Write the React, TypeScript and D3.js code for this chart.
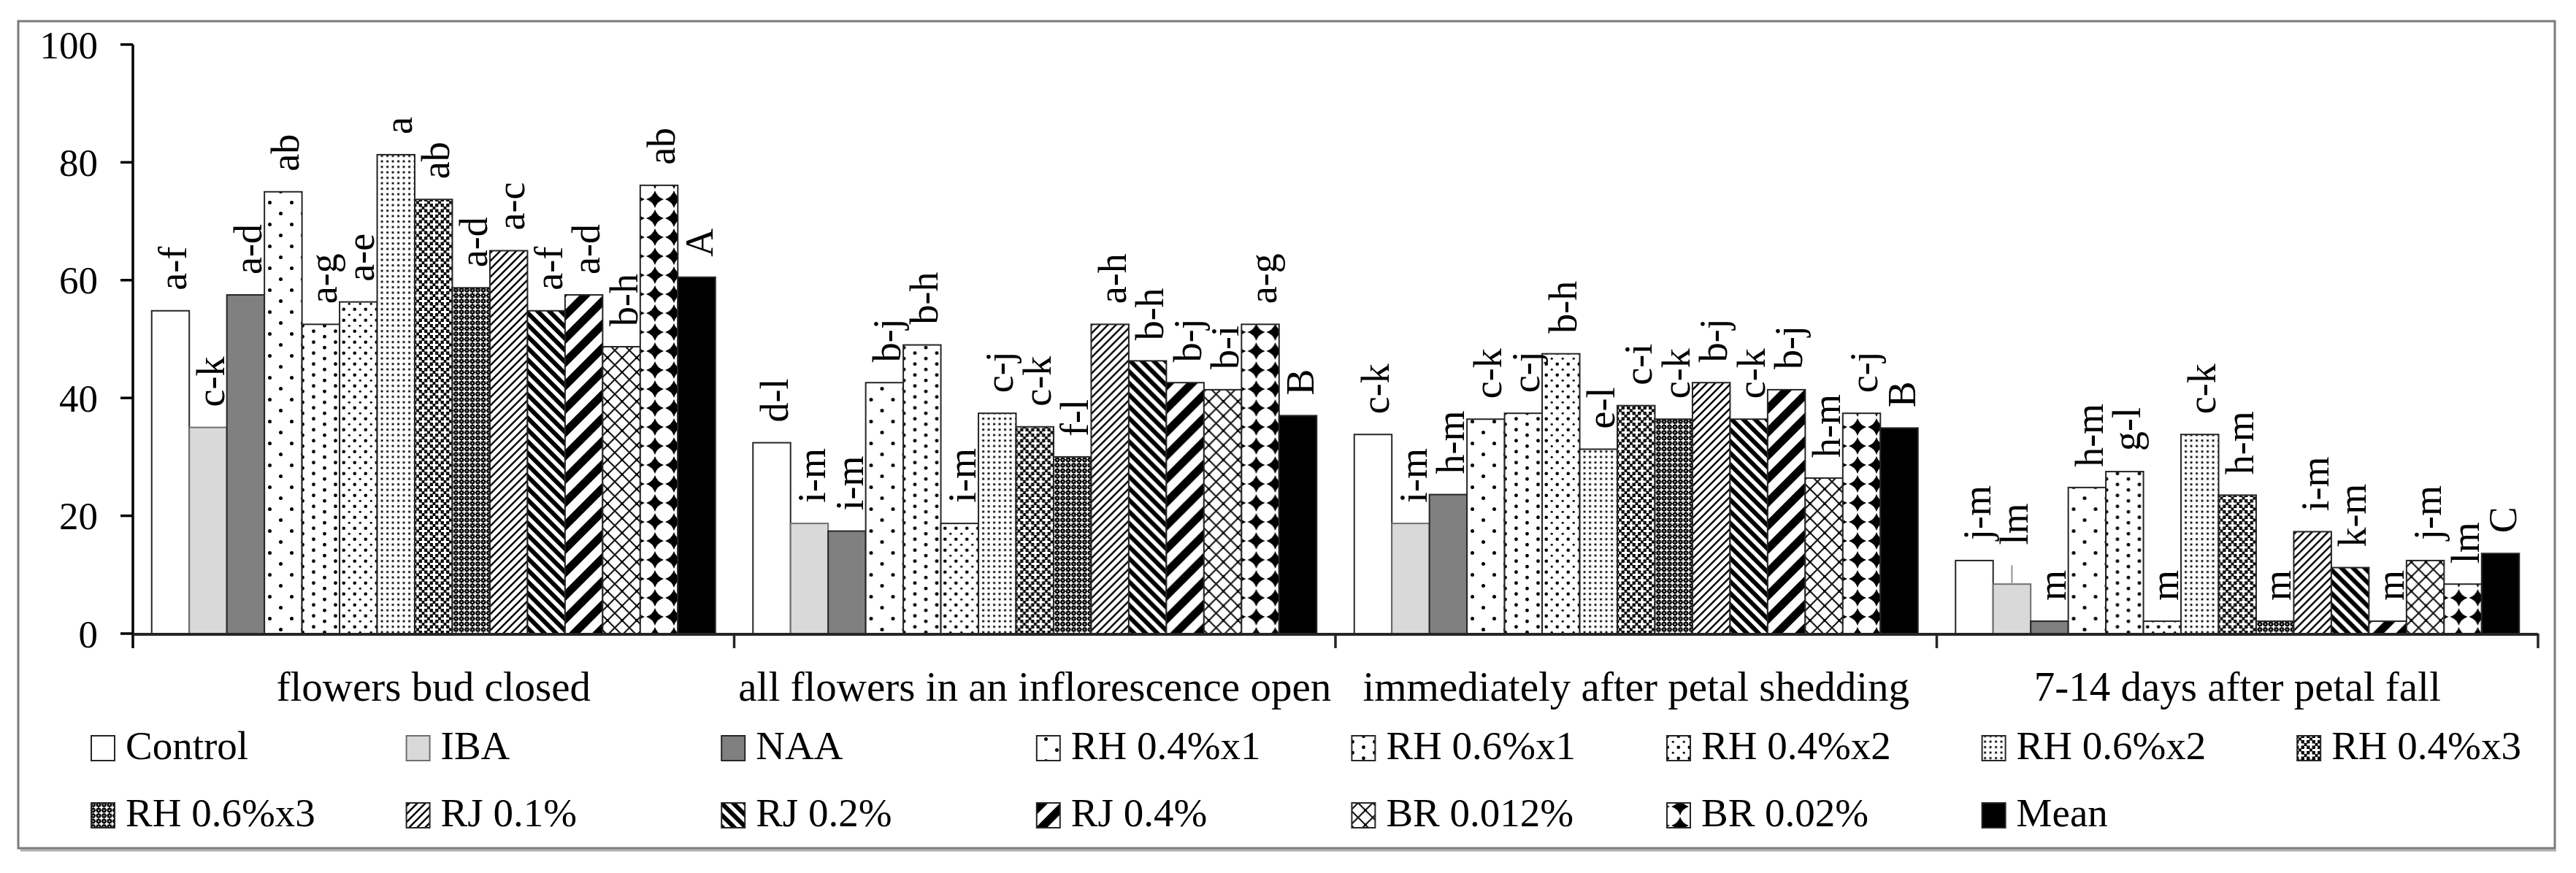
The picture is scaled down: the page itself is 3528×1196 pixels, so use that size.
import React from 'react';
import * as d3 from 'd3';

// stages on the x axis
const stages = [
  'flowers bud closed',
  'all flowers in an inflorescence open',
  'immediately after petal shedding',
  '7-14 days after petal fall',
];

// treatments (series)
const treatments = [
  'Control', 'IBA', 'NAA', 'RH 0.4%x1', 'RH 0.6%x1', 'RH 0.4%x2', 'RH 0.6%x2', 'RH 0.4%x3',
  'RH 0.6%x3', 'RJ 0.1%', 'RJ 0.2%', 'RJ 0.4%', 'BR 0.012%', 'BR 0.02%', 'Mean',
];

// values per stage, in treatment order
const budClosed = [54.8, 35.0, 57.5, 75.0, 52.5, 56.3, 81.3, 73.7, 58.7, 65.0, 54.8, 57.5, 48.7, 76.1, 60.5];
const allOpen = [32.4, 18.7, 17.4, 42.6, 49.0, 18.7, 37.4, 35.1, 30.0, 52.5, 46.3, 42.6, 41.4, 52.5, 37.0];
const afterShedding = [33.8, 18.7, 23.6, 36.4, 37.4, 47.5, 31.3, 38.7, 36.4, 42.6, 36.4, 41.4, 26.4, 37.4, 34.9];
const afterFall = [12.4, 8.4, 2.1, 24.8, 27.5, 2.1, 33.8, 23.5, 2.1, 17.3, 11.2, 2.1, 12.4, 8.4, 13.6];

// significance letters
const budClosedLetters = ['a-f', 'c-k', 'a-d', 'ab', 'a-g', 'a-e', 'a', 'ab', 'a-d', 'a-c', 'a-f', 'a-d', 'b-h', 'ab', 'A'];
const allOpenLetters = ['d-l', 'i-m', 'i-m', 'b-j', 'b-h', 'i-m', 'c-j', 'c-k', 'f-l', 'a-h', 'b-h', 'b-j', 'b-i', 'a-g', 'B'];
const afterSheddingLetters = ['c-k', 'i-m', 'h-m', 'c-k', 'c-j', 'b-h', 'e-l', 'c-i', 'c-k', 'b-j', 'c-k', 'b-j', 'h-m', 'c-j', 'B'];
const afterFallLetters = ['j-m', 'lm', 'm', 'h-m', 'g-l', 'm', 'c-k', 'h-m', 'm', 'i-m', 'k-m', 'm', 'j-m', 'lm', 'C'];

// the only error whisker that shows (IBA, 7-14 days)
const visibleWhisker = { stage: 3, treatment: 1, top: 11.6 };

const yTicks = [0, 20, 40, 60, 80, 100];

const values = [budClosed, allOpen, afterShedding, afterFall];
const letters = [budClosedLetters, allOpenLetters, afterSheddingLetters, afterFallLetters];

const FONT = '"Liberation Serif", "Times New Roman", serif';
const W = 3528;
const H = 1196;

// plot area
const left = 182;
const right = 3476;
const top = 61;
const bottom = 868;

const fills = [
  '#ffffff', '#d9d9d9', '#808080', 'url(#p3)', 'url(#p4)', 'url(#p5)', 'url(#p6)', 'url(#p7)',
  'url(#p8)', 'url(#p9)', 'url(#p10)', 'url(#p11)', 'url(#p12)', 'url(#p13)', '#000000',
];

const plus = (cx: number, cy: number, arm: number, w: number) =>
  `M${cx - w / 2},${cy - arm}h${w}v${arm - w / 2}h${arm - w / 2}v${w}h${-(arm - w / 2)}v${arm - w / 2}h${-w}v${-(arm - w / 2)}h${-(arm - w / 2)}v${-w}h${arm - w / 2}z`;

const Patterns: React.FC = () => (
  <defs>
    {/* RH 0.4%x1 sparse dots */}
    <pattern id="p3" patternUnits="userSpaceOnUse" width={30} height={30}>
      <rect width={30} height={30} fill="#fff" />
      <circle cx={7.5} cy={7.5} r={2.5} fill="#000" />
      <circle cx={22.5} cy={22.5} r={2.5} fill="#000" />
    </pattern>
    {/* RH 0.6%x1 */}
    <pattern id="p4" patternUnits="userSpaceOnUse" width={30} height={15}>
      <rect width={30} height={15} fill="#fff" />
      <circle cx={7.5} cy={3.75} r={2.4} fill="#000" />
      <circle cx={22.5} cy={11.25} r={2.4} fill="#000" />
    </pattern>
    {/* RH 0.4%x2 */}
    <pattern id="p5" patternUnits="userSpaceOnUse" width={15} height={15}>
      <rect width={15} height={15} fill="#fff" />
      <circle cx={3.75} cy={3.75} r={2.3} fill="#000" />
      <circle cx={11.25} cy={11.25} r={1.6} fill="#000" />
    </pattern>
    {/* RH 0.6%x2 */}
    <pattern id="p6" patternUnits="userSpaceOnUse" width={7.5} height={7.5}>
      <rect width={7.5} height={7.5} fill="#fff" />
      <rect x={2.2} y={2.2} width={2.8} height={2.8} fill="#000" />
    </pattern>
    {/* RH 0.4%x3 black lattice with white crosses */}
    <pattern id="p7" patternUnits="userSpaceOnUse" width={15} height={15}>
      <rect width={15} height={15} fill="#000" />
      <path d={plus(7.5, 7.5, 5.6, 3.2)} fill="#fff" />
      <path d={plus(0, 0, 5.6, 3.2)} fill="#fff" />
      <path d={plus(15, 0, 5.6, 3.2)} fill="#fff" />
      <path d={plus(0, 15, 5.6, 3.2)} fill="#fff" />
      <path d={plus(15, 15, 5.6, 3.2)} fill="#fff" />
    </pattern>
    {/* RH 0.6%x3 finer, darker */}
    <pattern id="p8" patternUnits="userSpaceOnUse" width={7.5} height={7.5}>
      <rect width={7.5} height={7.5} fill="#000" />
      <path d={plus(3.75, 3.75, 3, 1.8)} fill="#fff" />
      <rect x={-0.8} y={-0.8} width={1.6} height={1.6} fill="#fff" />
      <rect x={6.7} y={-0.8} width={1.6} height={1.6} fill="#fff" />
      <rect x={-0.8} y={6.7} width={1.6} height={1.6} fill="#fff" />
      <rect x={6.7} y={6.7} width={1.6} height={1.6} fill="#fff" />
    </pattern>
    {/* RJ 0.1% light upward diagonal */}
    <pattern id="p9" patternUnits="userSpaceOnUse" width={11} height={11}>
      <rect width={11} height={11} fill="#fff" />
      <path d="M-2,13 L13,-2 M-2,2 L2,-2 M9,13 L13,9" stroke="#000" strokeWidth={2.4} />
    </pattern>
    {/* RJ 0.2% wide downward diagonal */}
    <pattern id="p10" patternUnits="userSpaceOnUse" width={16} height={16}>
      <rect width={16} height={16} fill="#fff" />
      <path d="M-4,-4 L20,20 M-4,12 L4,20 M12,-4 L20,4" stroke="#000" strokeWidth={6} />
    </pattern>
    {/* RJ 0.4% wide upward diagonal */}
    <pattern id="p11" patternUnits="userSpaceOnUse" width={32} height={32}>
      <rect width={32} height={32} fill="#fff" />
      <path d="M-4,36 L36,-4 M-8,8 L8,-8 M24,40 L40,24" stroke="#000" strokeWidth={11} />
    </pattern>
    {/* BR 0.012% diamond lattice */}
    <pattern id="p12" patternUnits="userSpaceOnUse" width={20} height={20}>
      <rect width={20} height={20} fill="#fff" />
      <path d="M0,0 L20,20 M20,0 L0,20" stroke="#1a1a1a" strokeWidth={2.2} />
      <circle cx={10} cy={10} r={2} fill="#000" />
    </pattern>
    {/* BR 0.02% four-point stars */}
    <pattern id="p13" patternUnits="userSpaceOnUse" width={26} height={26}>
      <rect width={26} height={26} fill="#fff" />
      <path d="M13,1 Q16,10 25,13 Q16,16 13,25 Q10,16 1,13 Q10,10 13,1Z" fill="#000" />
    </pattern>
  </defs>
);

const App: React.FC = () => {
  const x0 = d3.scaleBand<string>().domain(stages).range([left, right]).padding(0);
  const x1 = d3.scaleBand<string>().domain(treatments).range([0, x0.bandwidth()]).paddingInner(0).paddingOuter(0.5);
  const y = d3.scaleLinear().domain([0, 100]).range([bottom, top]);

  const legendCol = (i: number) => 125 + i * 431.6;
  const legendRows = [treatments.slice(0, 8), treatments.slice(8)];

  return (
    <svg width={W} height={H} style={{ position: 'absolute', left: 0, top: 0, background: '#fff' }}
      fontFamily={FONT}>
      <Patterns />
      <rect x={0} y={0} width={W} height={H} fill="#fff" />
      {/* outer frame */}
      <line x1={28} y1={1165} x2={3501} y2={1165} stroke="#b0b0b0" strokeWidth={3} />
      <rect x={25} y={29} width={3474} height={1133} fill="none" stroke="#7a7a7a" strokeWidth={3} />

      {/* bars */}
      {stages.map((s, gi) => (
        <g key={s} transform={`translate(${x0(s)},0)`}>
          {treatments.map((t, ti) => {
            const v = values[gi][ti];
            const bx = x1(t) as number;
            return (
              <rect key={t} x={bx} y={y(v)} width={x1.bandwidth()} height={bottom - y(v)}
                fill={fills[ti]} stroke={ti === 1 ? '#6f6f6f' : '#262626'} strokeWidth={2} />
            );
          })}
        </g>
      ))}

      {/* error whisker that is visible */}
      {(() => {
        const s = stages[visibleWhisker.stage];
        const t = treatments[visibleWhisker.treatment];
        const cx = (x0(s) as number) + (x1(t) as number) + x1.bandwidth() / 2;
        return (
          <line x1={cx} x2={cx} y1={y(values[visibleWhisker.stage][visibleWhisker.treatment])}
            y2={y(visibleWhisker.top)} stroke="#a6a6a6" strokeWidth={2.5} />
        );
      })()}

      {/* letters */}
      {stages.map((s, gi) => (
        <g key={`l-${s}`}>
          {treatments.map((t, ti) => {
            const cx = (x0(s) as number) + (x1(t) as number) + x1.bandwidth() / 2;
            let v = values[gi][ti];
            if (gi === visibleWhisker.stage && ti === visibleWhisker.treatment) v = visibleWhisker.top;
            return (
              <text key={t} transform={`translate(${cx},${y(v) - 28}) rotate(-90)`} dy="0.4em"
                fontSize={54} textAnchor="start" fill="#000">
                {letters[gi][ti]}
              </text>
            );
          })}
        </g>
      ))}

      {/* y axis */}
      <line x1={left} x2={left} y1={top} y2={bottom + 20} stroke="#000" strokeWidth={3.5} />
      {yTicks.map(v => (
        <g key={v}>
          <line x1={left - 17} x2={left} y1={y(v)} y2={y(v)} stroke="#000" strokeWidth={3.5} />
          <text x={134} y={y(v)} dy="0.35em" textAnchor="end" fontSize={53} fill="#000">{v}</text>
        </g>
      ))}

      {/* x axis */}
      <line x1={left} x2={right} y1={bottom + 1} y2={bottom + 1} stroke="#262626" strokeWidth={4} />
      {stages.map(s => (
        <line key={`t-${s}`} x1={(x0(s) as number) + x0.bandwidth()} x2={(x0(s) as number) + x0.bandwidth()}
          y1={bottom} y2={bottom + 20} stroke="#262626" strokeWidth={3.5} />
      ))}
      {stages.map(s => (
        <text key={`c-${s}`} x={(x0(s) as number) + x0.bandwidth() / 2} y={960} textAnchor="middle"
          fontSize={57} fill="#000">{s}</text>
      ))}

      {/* legend */}
      {legendRows.map((row, ri) => (
        <g key={`row-${ri}`}>
          {row.map((t, ci) => {
            const ti = treatments.indexOf(t);
            const lx = legendCol(ci);
            const ly = ri === 0 ? 1008 : 1100;
            return (
              <g key={t}>
                <rect x={lx} y={ly} width={32} height={34} fill={fills[ti]}
                  stroke={ti === 1 ? '#6f6f6f' : '#262626'} strokeWidth={2} />
                <text x={lx + 47} y={ly + 32} fontSize={55} fill="#000">{t}</text>
              </g>
            );
          })}
        </g>
      ))}
    </svg>
  );
};

export default App;
